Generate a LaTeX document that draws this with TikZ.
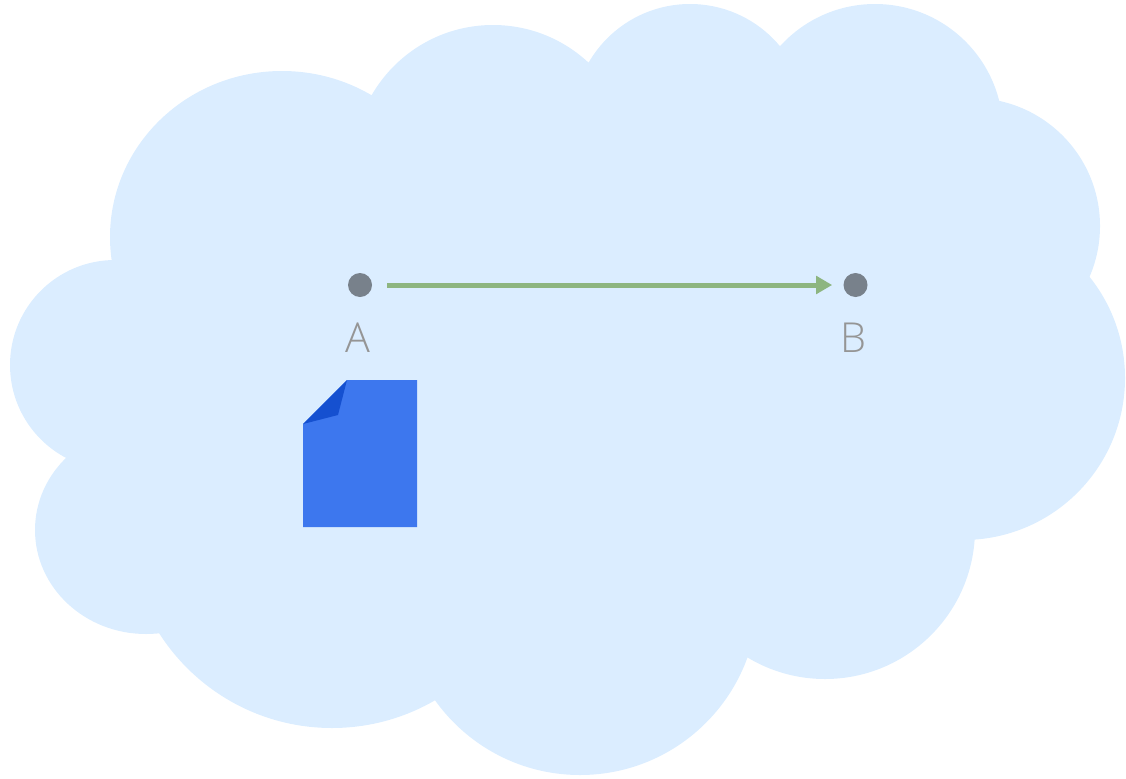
\documentclass[tikz,border=0pt]{standalone}
\usepackage{fontspec}
\setmainfont{Open Sans}[UprightFont=* Light]
\usetikzlibrary{arrows.meta}
\definecolor{cloudc}{HTML}{DBEDFF}
\definecolor{dotc}{HTML}{78818B}
\definecolor{arrowc}{HTML}{8DB580}
\definecolor{docc}{HTML}{3D77EE}
\definecolor{foldc}{HTML}{1550D0}
\definecolor{labelc}{HTML}{959595}
\tikzset{
  dotnode/.style={circle,fill=dotc,minimum size=18pt,inner sep=0pt},
  labelnode/.style={text=labelc,font=\fontsize{31pt}{31pt}\selectfont,inner sep=0pt,anchor=base},
  link/.style={draw=arrowc,line width=3.75pt,-{Triangle[length=12pt,width=13pt]},shorten >=8.3pt,shorten <=11.3pt},
}
\begin{document}
\begin{tikzpicture}[x=0.75pt,y=-0.75pt]
\useasboundingbox (0,0) rectangle (1126,778);
\fill[cloudc] (282,237) ellipse[x radius=129pt,y radius=124.5pt]
 (493,165) circle[radius=105pt]
 (690,121) circle[radius=87.75pt]
 (875,132) circle[radius=96pt]
 (972,226) circle[radius=96pt]
 (963,378) circle[radius=121.5pt]
 (825,529) circle[radius=112.5pt]
 (580,597) circle[radius=133.5pt]
 (332,523) circle[radius=153.75pt]
 (146,530) ellipse[x radius=83.25pt,y radius=78pt]
 (115,365) circle[radius=78.75pt];
\fill[cloudc] (116,264) -- (280,110) -- (376,100) -- (590,68) -- (780,50) -- (994,104) -- (1084,277) -- (970,536) -- (747,652) -- (435,695) -- (165,628) -- (70,457) -- cycle;
\node[dotnode] (a) at (360,285) {};
\node[dotnode] (b) at (855.5,285) {};
\path[link] (a) -- (b);
\node[labelnode] (la) at (358,352.5) {A};
\node[labelnode] (lb) at (853,352.5) {B};
\fill[docc] (347,380) -- (417,380) -- (417,527) -- (303,527) -- (303,424) -- cycle;
\fill[foldc] (347,380) -- (338,415) -- (303,424) -- cycle;
\end{tikzpicture}
\end{document}
